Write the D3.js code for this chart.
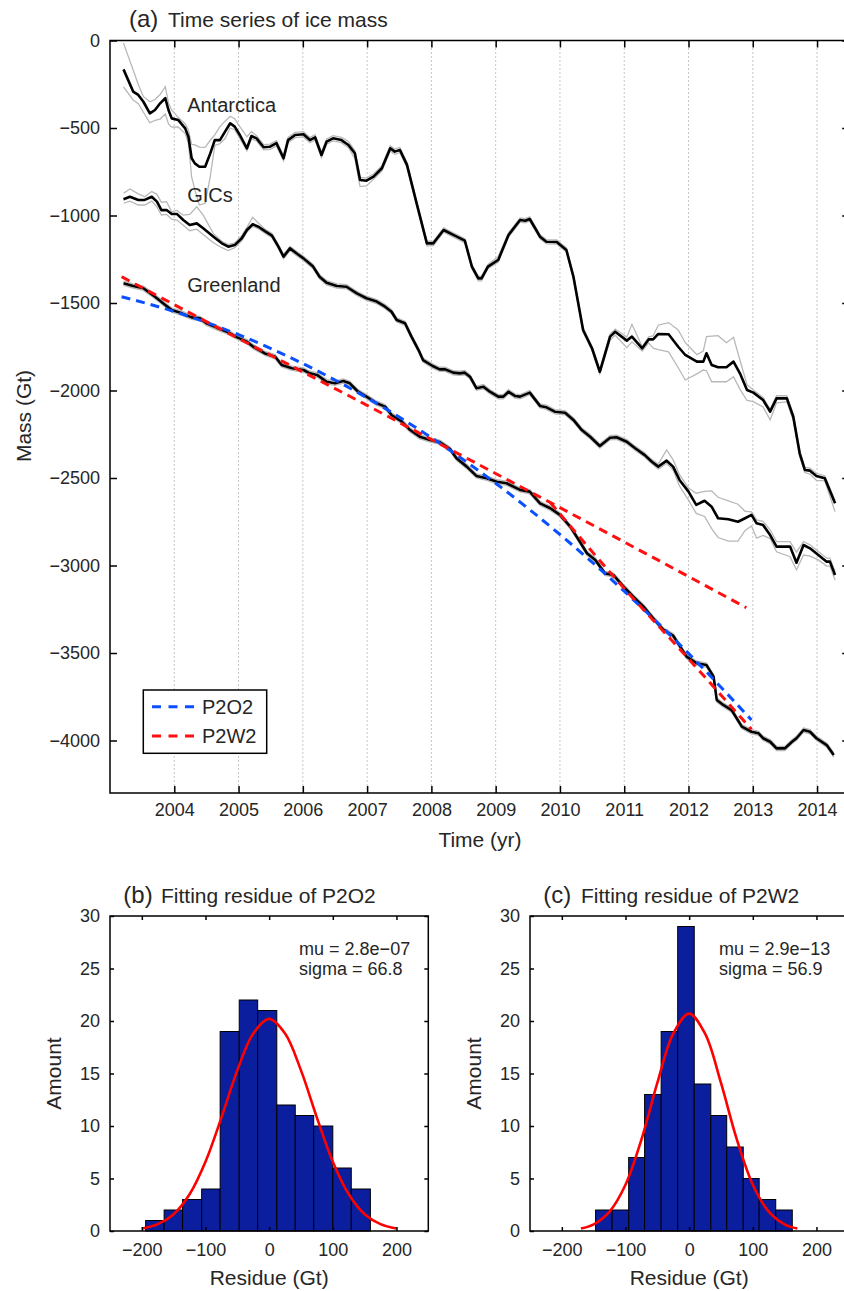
<!DOCTYPE html>
<html>
<head>
<meta charset="utf-8">
<script src="https://cdn.jsdelivr.net/npm/d3@7"></script>
<style>
body{margin:0;background:#fff}
svg text{font-family:"Liberation Sans",Arial,Helvetica,sans-serif;fill:#262626}
</style>
</head>
<body>
<script>
// rows: [year, mass (Gt), gray upper offset, gray lower offset]
const antarctica = [
[2003.21,-165,150,100],[2003.36,-292,123,48],[2003.44,-311,60,50],[2003.52,-350,29,60],[2003.62,-416,66,54],
[2003.70,-397,60,60],[2003.78,-359,50,90],[2003.86,-330,66,90],[2003.91,-397,40,80],[2003.96,-445,48,50],
[2004.06,-454,15,40],[2004.17,-502,25,30],[2004.22,-550,39,38],[2004.27,-673,80,107],[2004.32,-702,105,150],
[2004.39,-721,112,219],[2004.48,-721,110,209],[2004.56,-645,75,133],[2004.63,-569,30,31],[2004.71,-569,77,21],
[2004.79,-521,60,39],[2004.87,-473,40,27],[2004.94,-492,45,18],[2005.02,-540,48,20],[2005.13,-616,66,14],
[2005.20,-546,25,15],[2005.28,-559,15,15],[2005.39,-610,15,15],[2005.49,-607,15,15],[2005.59,-587,15,15],
[2005.70,-673,15,15],[2005.77,-569,15,15],[2005.88,-540,15,15],[2006.01,-536,15,15],[2006.11,-569,15,15],
[2006.19,-553,15,15],[2006.29,-654,15,15],[2006.37,-578,15,15],[2006.47,-559,15,15],[2006.60,-569,15,15],
[2006.71,-597,20,15],[2006.81,-645,15,30],[2006.89,-797,15,38],[2006.99,-801,15,30],[2007.10,-778,15,15],
[2007.23,-730,15,15],[2007.36,-616,15,15],[2007.43,-635,15,15],[2007.51,-626,15,15],[2007.62,-711,15,15],
[2007.77,-930,15,15],[2007.93,-1159,12,15],[2008.03,-1159,12,15],[2008.19,-1083,12,12],[2008.34,-1111,12,12],
[2008.52,-1144,12,12],[2008.63,-1292,12,12],[2008.73,-1359,12,15],[2008.78,-1359,12,15],[2008.88,-1292,12,12],
[2009.04,-1254,20,12],[2009.20,-1111,12,12],[2009.38,-1026,12,12],[2009.46,-1030,12,12],[2009.53,-1020,12,12],
[2009.69,-1121,12,12],[2009.79,-1150,12,12],[2009.95,-1151,12,12],[2010.10,-1197,12,12],[2010.21,-1350,12,12],
[2010.36,-1654,12,12],[2010.50,-1760,12,12],[2010.62,-1893,12,12],[2010.78,-1692,15,20],[2010.86,-1664,15,20],
[2011.04,-1715,20,40],[2011.12,-1692,70,30],[2011.28,-1759,10,15],[2011.38,-1708,15,20],[2011.45,-1708,20,50],
[2011.53,-1677,50,90],[2011.69,-1679,67,100],[2011.84,-1750,96,120],[2011.95,-1797,70,143],[2012.13,-1835,40,70],
[2012.23,-1835,60,48],[2012.28,-1787,95,100],[2012.36,-1854,165,96],[2012.46,-1867,180,83],[2012.59,-1867,140,83],
[2012.70,-1835,139,86],[2012.80,-1902,76,90],[2012.91,-1997,30,60],[2013.01,-2012,15,52],[2013.16,-2054,15,40],
[2013.27,-2121,15,47],[2013.37,-2045,15,25],[2013.53,-2045,15,20],[2013.63,-2150,15,20],[2013.73,-2359,15,20],
[2013.81,-2454,15,15],[2013.89,-2458,15,20],[2013.99,-2488,15,25],[2014.12,-2502,15,15],[2014.28,-2644,15,48]
];
const gics = [
[2003.21,-907,34,23],[2003.31,-893,45,25],[2003.44,-911,35,29],[2003.54,-911,18,29],[2003.65,-893,30,25],
[2003.73,-921,42,30],[2003.80,-969,45,28],[2003.88,-969,48,25],[2003.96,-991,12,30],[2004.04,-991,20,35],
[2004.14,-1026,28,30],[2004.24,-1054,60,33],[2004.35,-1045,95,33],[2004.45,-1073,75,35],[2004.61,-1121,17,35],
[2004.74,-1159,12,25],[2004.84,-1178,12,22],[2004.94,-1169,12,15],[2005.05,-1130,15,15],[2005.13,-1083,15,12],
[2005.22,-1050,40,12],[2005.31,-1064,20,12],[2005.41,-1089,12,12],[2005.52,-1115,12,12],[2005.62,-1178,12,12],
[2005.70,-1235,12,12],[2005.80,-1188,12,12],[2005.90,-1216,12,12],[2006.01,-1245,12,12],[2006.16,-1292,12,12],
[2006.26,-1350,12,12],[2006.37,-1384,12,12],[2006.53,-1403,12,12],[2006.68,-1407,12,12],[2006.84,-1445,12,12],
[2006.99,-1473,12,12],[2007.15,-1492,12,12],[2007.28,-1521,12,12],[2007.38,-1550,12,12],[2007.46,-1597,12,12],
[2007.59,-1616,12,12],[2007.69,-1692,12,12],[2007.80,-1769,12,12],[2007.87,-1826,12,12],[2008.02,-1860,12,12],
[2008.13,-1879,12,12],[2008.21,-1879,12,12],[2008.34,-1898,12,12],[2008.44,-1902,12,12],[2008.52,-1898,12,12],
[2008.60,-1921,12,12],[2008.70,-1987,12,12],[2008.81,-1978,12,12],[2008.91,-2007,12,12],[2009.04,-2035,12,12],
[2009.12,-2035,12,12],[2009.20,-2007,12,12],[2009.30,-2031,12,12],[2009.38,-2035,12,12],[2009.53,-2012,12,12],
[2009.69,-2088,12,12],[2009.79,-2096,12,12],[2009.92,-2121,12,12],[2010.08,-2127,12,12],[2010.21,-2168,12,12],
[2010.34,-2226,12,12],[2010.47,-2264,12,12],[2010.62,-2317,12,12],[2010.78,-2270,12,12],[2010.88,-2267,12,12],
[2011.04,-2293,12,12],[2011.17,-2330,12,12],[2011.32,-2369,12,12],[2011.43,-2407,12,12],[2011.53,-2435,15,15],
[2011.66,-2401,61,15],[2011.76,-2435,40,19],[2011.86,-2511,30,35],[2012.00,-2578,20,48],[2012.12,-2654,67,48],
[2012.25,-2630,53,90],[2012.36,-2664,90,125],[2012.46,-2730,120,110],[2012.62,-2736,105,125],[2012.77,-2750,100,110],
[2012.88,-2730,40,70],[2012.98,-2711,18,63],[2013.06,-2759,20,85],[2013.16,-2768,20,60],[2013.27,-2826,30,20],
[2013.37,-2892,28,30],[2013.58,-2892,28,58],[2013.68,-2984,60,40],[2013.79,-2883,20,57],[2013.89,-2902,20,45],
[2014.02,-2940,20,28],[2014.15,-2978,20,25],[2014.20,-2978,20,25],[2014.28,-3054,20,29]
];
const greenland = [
[2003.21,-1387,12,12],[2003.36,-1403,12,12],[2003.52,-1416,12,12],[2003.70,-1464,12,12],[2003.86,-1511,12,12],
[2003.96,-1540,12,12],[2004.12,-1559,12,12],[2004.27,-1582,12,12],[2004.40,-1588,12,12],[2004.50,-1616,12,12],
[2004.66,-1641,12,12],[2004.82,-1664,12,12],[2004.97,-1695,12,12],[2005.13,-1721,12,12],[2005.23,-1750,12,12],
[2005.41,-1788,12,12],[2005.57,-1807,12,12],[2005.67,-1854,12,12],[2005.83,-1873,12,12],[2006.01,-1883,12,12],
[2006.11,-1902,12,12],[2006.22,-1911,12,12],[2006.37,-1950,12,12],[2006.50,-1959,12,12],[2006.63,-1946,12,12],
[2006.73,-1959,12,12],[2006.86,-2007,12,12],[2006.99,-2035,12,12],[2007.15,-2073,12,12],[2007.28,-2092,12,12],
[2007.38,-2140,12,12],[2007.54,-2178,12,12],[2007.67,-2226,12,12],[2007.82,-2264,12,12],[2007.98,-2283,12,12],
[2008.13,-2295,12,12],[2008.29,-2335,12,12],[2008.39,-2387,12,12],[2008.55,-2435,12,12],[2008.70,-2488,12,12],
[2008.86,-2502,12,12],[2009.02,-2521,12,12],[2009.17,-2530,12,12],[2009.38,-2568,12,12],[2009.53,-2578,12,12],
[2009.69,-2645,12,12],[2009.85,-2673,12,12],[2010.00,-2711,12,12],[2010.16,-2778,12,12],[2010.31,-2864,12,12],
[2010.42,-2930,12,12],[2010.55,-2968,12,12],[2010.70,-3045,12,12],[2010.83,-3054,12,12],[2010.99,-3121,12,12],
[2011.14,-3178,12,12],[2011.30,-3235,12,12],[2011.45,-3302,12,12],[2011.61,-3368,12,12],[2011.76,-3400,12,12],
[2011.97,-3521,12,12],[2012.13,-3559,12,12],[2012.28,-3569,12,12],[2012.39,-3635,12,12],[2012.44,-3769,12,12],
[2012.54,-3797,12,12],[2012.67,-3826,12,12],[2012.83,-3921,12,12],[2012.98,-3950,12,12],[2013.09,-3959,12,12],
[2013.16,-3987,12,12],[2013.27,-4007,12,12],[2013.37,-4045,12,12],[2013.50,-4045,12,12],[2013.61,-4007,12,12],
[2013.68,-3987,12,12],[2013.79,-3940,12,12],[2013.89,-3950,12,12],[2013.99,-3987,12,12],[2014.15,-4026,12,12],
[2014.26,-4083,12,12]
];
// fitted curves for Greenland
const p2o2 = [[2003.18,-1464],[2004.0,-1549],[2005.0,-1681],[2006.0,-1846],[2007.0,-2042],[2008.0,-2270],
  [2009.0,-2530],[2010.0,-2823],[2011.0,-3147],[2012.0,-3502],[2012.98,-3883]];
const p2w2a = [[2003.18,-1350],[2005.0,-1703],[2007.0,-2085],[2008.0,-2280],[2009.85,-2640],[2012.9,-3241]];
const p2w2b = [[2009.85,-2640],[2010.93,-3102],[2011.97,-3521],[2012.98,-3936]];
const seriesLabels = [["Antarctica",-410],["GICs",-920],["Greenland",-1435]];
const years = [2004,2005,2006,2007,2008,2009,2010,2011,2012,2013,2014];
const massTicks = [0,-500,-1000,-1500,-2000,-2500,-3000,-3500,-4000];

// residue histograms
const edgesB = [-194,-165,-136,-106,-77,-47,-18,12,41,70,100,129,159];
const countsB = [1,2,3,4,19,22,21,12,11,10,6,4];
const fitXB = [-200,-175,-150,-125,-100,-75,-50,-25,0,25,50,75,100,125,150,175,200];
const fitYB = [0.23,0.65,1.6,3.5,6.6,10.8,15.3,18.8,20.2,18.8,15.3,10.8,6.6,3.5,1.6,0.65,0.23];
const edgesC = [-147,-121,-95,-70,-44,-18,8,34,59,85,110,136,162];
const countsC = [2,2,7,13,19,29,14,11,8,5,3,2];
const fitXC = [-170,-150,-125,-100,-75,-50,-25,0,25,50,75,100,125,150,170];
const fitYC = [0.24,0.64,1.85,4.4,8.7,14.1,18.8,20.7,18.8,14.1,8.7,4.4,1.85,0.64,0.24];
const residueTicks = [-200,-100,0,100,200];
const amountTicks = [0,5,10,15,20,25,30];

const W = 844, H = 1291;
const svg = d3.select("body").append("svg").attr("width",W).attr("height",H);

// ---------- panel (a)
const xA = d3.scaleLinear().domain([2003,2014.5]).range([110,849.2]);
const yA = d3.scaleLinear().domain([-4300,0]).range([793,40.5]);
const gA = svg.append("g");

gA.selectAll(".grid").data(years).enter().append("line")
  .attr("x1",d=>xA(d)).attr("x2",d=>xA(d)).attr("y1",yA(0)).attr("y2",yA(-4300))
  .attr("stroke","#8c8c8c").attr("stroke-width",1).attr("stroke-dasharray","1,3");

const line = d3.line().x(d=>xA(d[0])).y(d=>yA(d[1]));
[antarctica,gics,greenland].forEach(s=>{
  gA.append("path").datum(s.map(d=>[d[0],d[1]+d[2]])).attr("d",line)
    .attr("fill","none").attr("stroke","#b8b8b8").attr("stroke-width",1.3);
  gA.append("path").datum(s.map(d=>[d[0],d[1]-d[3]])).attr("d",line)
    .attr("fill","none").attr("stroke","#b8b8b8").attr("stroke-width",1.3);
});
[antarctica,gics,greenland].forEach(s=>{
  gA.append("path").datum(s).attr("d",line)
    .attr("fill","none").attr("stroke","#000").attr("stroke-width",2.6).attr("stroke-linejoin","round");
});
const smooth = d3.line().x(d=>xA(d[0])).y(d=>yA(d[1])).curve(d3.curveMonotoneX);
gA.append("path").datum(p2o2).attr("d",smooth).attr("fill","none")
  .attr("stroke","#0a50ff").attr("stroke-width",3).attr("stroke-dasharray","9,6");
[p2w2a,p2w2b].forEach(s=>{
  gA.append("path").datum(s).attr("d",smooth).attr("fill","none")
    .attr("stroke","#ff1010").attr("stroke-width",3).attr("stroke-dasharray","9,6");
});

gA.append("rect").attr("x",110).attr("y",40.5).attr("width",739.2).attr("height",752.5)
  .attr("fill","none").attr("stroke","#000").attr("stroke-width",1.5);

const axB = gA.append("g").attr("transform","translate(0,793)")
  .call(d3.axisBottom(xA).tickValues(years).tickFormat(d3.format("d")).tickSizeInner(-7).tickSizeOuter(0).tickPadding(10));
const axT = gA.append("g").attr("transform","translate(0,40.5)")
  .call(d3.axisTop(xA).tickValues(years).tickFormat("").tickSizeInner(-7).tickSizeOuter(0));
const axL = gA.append("g").attr("transform","translate(110,0)")
  .call(d3.axisLeft(yA).tickValues(massTicks).tickFormat(d3.format("d")).tickSizeInner(-7).tickSizeOuter(0).tickPadding(10));
const axR = gA.append("g").attr("transform","translate(849.2,0)")
  .call(d3.axisRight(yA).tickValues(massTicks).tickFormat("").tickSizeInner(-7).tickSizeOuter(0));
[axB,axT,axL,axR].forEach(a=>{
  a.select(".domain").remove();
  a.selectAll(".tick line").attr("stroke","#000").attr("stroke-width",1.5);
  a.selectAll("text").attr("font-size",18).attr("fill","#262626").style("font-family",null);
});

gA.selectAll(".slabel").data(seriesLabels).enter().append("text")
  .attr("x",xA(2004.2)).attr("y",d=>yA(d[1])).attr("font-size",20).text(d=>d[0]);

const tA = gA.append("text").attr("x",129).attr("y",27);
tA.append("tspan").attr("font-size",24).text("(a)");
tA.append("tspan").attr("x",168).attr("font-size",21).text("Time series of ice mass");
gA.append("text").attr("x",480).attr("y",847).attr("text-anchor","middle").attr("font-size",21).text("Time (yr)");
gA.append("text").attr("transform","translate(31,416) rotate(-90)").attr("text-anchor","middle")
  .attr("font-size",21).text("Mass (Gt)");

// legend
const leg = gA.append("g");
leg.append("rect").attr("x",143.3).attr("y",690).attr("width",123.4).attr("height",63.3)
  .attr("fill","#fff").attr("stroke","#000").attr("stroke-width",1.5);
[["P2O2","#0a50ff",706.7],["P2W2","#ff1010",736]].forEach(e=>{
  leg.append("line").attr("x1",152).attr("x2",197).attr("y1",e[2]).attr("y2",e[2])
    .attr("stroke",e[1]).attr("stroke-width",3).attr("stroke-dasharray","9,7.5");
  leg.append("text").attr("x",202).attr("y",e[2]+7).attr("font-size",20).text(e[0]);
});

// ---------- histograms
function hist(left, letter, name, edges, counts, fitX, fitY, mu, sigma){
  const x = d3.scaleLinear().domain([-250,250]).range([left,left+318.3]);
  const y = d3.scaleLinear().domain([0,30]).range([1231,916]);
  const g = svg.append("g");
  g.selectAll(".bar").data(counts).enter().append("rect")
    .attr("x",(d,i)=>x(edges[i])).attr("width",(d,i)=>x(edges[i+1])-x(edges[i]))
    .attr("y",d=>y(d)).attr("height",d=>y(0)-y(d))
    .attr("fill","#0a1e9e").attr("stroke","#000").attr("stroke-width",1);
  const pts = fitX.map((v,i)=>[v,fitY[i]]);
  g.append("path").datum(pts).attr("d",d3.line().x(d=>x(d[0])).y(d=>y(d[1])).curve(d3.curveCatmullRom))
    .attr("fill","none").attr("stroke","#ff0000").attr("stroke-width",2.6);
  g.append("rect").attr("x",left).attr("y",916).attr("width",318.3).attr("height",315)
    .attr("fill","none").attr("stroke","#000").attr("stroke-width",1.5);
  const b = g.append("g").attr("transform","translate(0,1231)")
    .call(d3.axisBottom(x).tickValues(residueTicks).tickFormat(d3.format("d")).tickSizeInner(-4).tickSizeOuter(0).tickPadding(12));
  const t = g.append("g").attr("transform","translate(0,916)")
    .call(d3.axisTop(x).tickValues(residueTicks).tickFormat("").tickSizeInner(-4).tickSizeOuter(0));
  const l = g.append("g").attr("transform",`translate(${left},0)`)
    .call(d3.axisLeft(y).tickValues(amountTicks).tickSizeInner(-4).tickSizeOuter(0).tickPadding(10));
  const r = g.append("g").attr("transform",`translate(${left+318.3},0)`)
    .call(d3.axisRight(y).tickValues(amountTicks).tickFormat("").tickSizeInner(-4).tickSizeOuter(0));
  [b,t,l,r].forEach(a=>{
    a.select(".domain").remove();
    a.selectAll(".tick line").attr("stroke","#000").attr("stroke-width",1.5);
    a.selectAll("text").attr("font-size",18).attr("fill","#262626").style("font-family",null);
  });
  const tt = g.append("text").attr("x",left+13.3).attr("y",903);
  tt.append("tspan").attr("font-size",24).text(letter);
  tt.append("tspan").attr("x",left+51).attr("font-size",21).text(name);
  g.append("text").attr("x",x(0)).attr("y",1285).attr("text-anchor","middle").attr("font-size",21).text("Residue (Gt)");
  g.append("text").attr("transform",`translate(${left-49},1073.5) rotate(-90)`).attr("text-anchor","middle")
    .attr("font-size",21).text("Amount");
  g.append("text").attr("x",x(47)).attr("y",955).attr("font-size",18).text(mu);
  g.append("text").attr("x",x(47)).attr("y",975).attr("font-size",18).text(sigma);
}
hist(110,"(b)","Fitting residue of P2O2",edgesB,countsB,fitXB,fitYB,"mu = 2.8e\u221207","sigma = 66.8");
hist(530,"(c)","Fitting residue of P2W2",edgesC,countsC,fitXC,fitYC,"mu = 2.9e\u221213","sigma = 56.9");
</script>
</body>
</html>
